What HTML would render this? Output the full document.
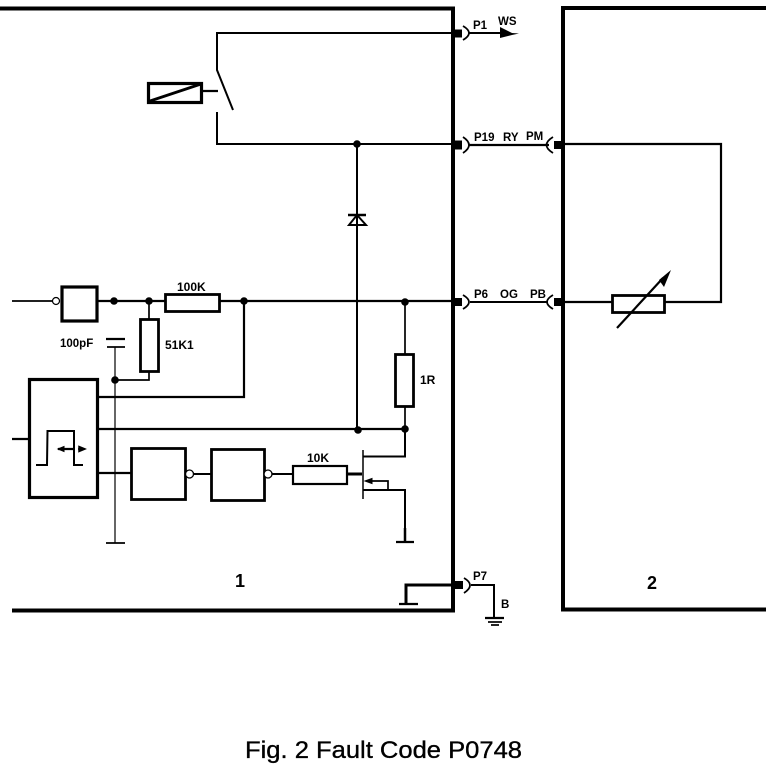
<!DOCTYPE html>
<html><head><meta charset="utf-8"><style>
html,body{margin:0;padding:0;background:#fff;width:784px;height:770px;overflow:hidden}
svg{display:block}
text{font-family:"Liberation Sans",sans-serif;font-weight:bold;fill:#000}
</style></head><body>
<svg width="784" height="770" viewBox="0 0 784 770" xmlns="http://www.w3.org/2000/svg" fill="none" stroke="#000" stroke-linecap="butt">
<!-- frames -->
<path d="M0 8.500H453V610.500H12" stroke-width="4"/>
<path d="M766 8H563V609.500H766" stroke-width="4"/>
<!-- relay -->
<path d="M453 33H217V70L233 110" stroke-width="2"/>
<path d="M217 112V144H453" stroke-width="2"/>
<rect x="148.500" y="83.500" width="53" height="19" stroke-width="3.200"/>
<path d="M150 101L201 84" stroke-width="2.800"/>
<path d="M201 91H218" stroke-width="2.200"/>
<!-- vertical diode -->
<path d="M357 144V430" stroke-width="2"/>
<path d="M349 225H366L357 215Z" stroke-width="2"/>
<path d="M348 215H366" stroke-width="2.500"/>
<!-- main line -->
<path d="M12 301H53" stroke-width="1.800"/>
<circle cx="56" cy="301" r="3.500" fill="#fff" stroke-width="1.200"/>
<rect x="62" y="287" width="35" height="34" stroke-width="3.200"/>
<path d="M97 301H165" stroke-width="2.200"/>
<rect x="165.500" y="294.500" width="54" height="17" stroke-width="2.800"/>
<path d="M220 301H453" stroke-width="2.200"/>
<path d="M244 301V397H98" stroke-width="2.200"/>
<path d="M149 301V320" stroke-width="1.700"/>
<rect x="140.500" y="319.500" width="18" height="52" stroke-width="2.800"/>
<path d="M149 372V380H115" stroke-width="1.700"/>
<!-- capacitor -->
<path d="M106 339H125" stroke-width="2.200"/>
<path d="M107 347H125" stroke-width="1.700"/>
<path d="M115 347V543" stroke-width="1.200"/>
<path d="M106 543H125" stroke-width="1.700"/>
<!-- comparator -->
<rect x="29.500" y="379.500" width="68" height="118" stroke-width="3.200"/>
<path d="M12 439H29" stroke-width="2.200"/>
<path d="M36 465H47L47.500 431H74V465H83" stroke-width="2"/>
<path d="M58 449H75" stroke-width="2.200"/>
<path d="M58 449L64 446.500V451.500Z" fill="#000" stroke-width="1"/>
<path d="M78 449H85M85 449L79 446.500V451.500Z" fill="#000" stroke-width="1.500"/>
<path d="M98 429H405" stroke-width="2.200"/>
<path d="M98 473H131" stroke-width="2.200"/>
<!-- logic blocks -->
<rect x="131.500" y="448.500" width="54" height="51" stroke-width="2.800"/>
<circle cx="189.500" cy="474" r="4" fill="#fff" stroke-width="1.300"/>
<path d="M194 474H211" stroke-width="2"/>
<rect x="211.500" y="449.500" width="53" height="51" stroke-width="2.800"/>
<circle cx="268" cy="474" r="4" fill="#fff" stroke-width="1.300"/>
<path d="M272 474H293" stroke-width="2"/>
<rect x="293" y="466" width="54" height="18" stroke-width="2.200"/>
<path d="M347 474H362" stroke-width="3"/>
<!-- FET -->
<path d="M363 450V499" stroke-width="1.500"/>
<path d="M363 456.500H405V429" stroke-width="2"/>
<path d="M405 301V354" stroke-width="1.700"/>
<rect x="395.500" y="354.500" width="18" height="52" stroke-width="2.800"/>
<path d="M405 407V429" stroke-width="1.700"/>
<path d="M363 490H405V542" stroke-width="2"/>
<path d="M368 481H388V490" stroke-width="1.700"/>
<path d="M365 481L372 478.500V483.500Z" fill="#000" stroke-width="1"/>
<path d="M396 542H414" stroke-width="2.200"/>
<path d="M405 528V542" stroke-width="2.500"/>
<!-- internal ground P7 -->
<path d="M453 585H406V603" stroke-width="3"/>
<path d="M399 604H418" stroke-width="2.200"/>
<!-- dots -->
<g fill="#000" stroke="none">
<circle cx="357" cy="144" r="3.800"/><circle cx="114" cy="301" r="3.800"/><circle cx="149" cy="301" r="3.800"/>
<circle cx="244" cy="301" r="3.800"/><circle cx="405" cy="302" r="3.800"/><circle cx="115" cy="380" r="3.800"/>
<circle cx="358" cy="430" r="3.800"/><circle cx="405" cy="429" r="3.800"/>
<rect x="453" y="29.500" width="9" height="8"/><rect x="453" y="140.500" width="9" height="9"/>
<rect x="453" y="298" width="9" height="8"/><rect x="453" y="581" width="10" height="8"/>
<rect x="554" y="141" width="9" height="8"/><rect x="554" y="298" width="9" height="8"/>
<path d="M500 27L512 33 519 33.500 512 35 500 38Z"/>
<path d="M671 270L659 280 664 287Z"/>
</g>
<!-- connectors -->
<g stroke-width="1.800">
<path d="M463 26Q475 33 463 40"/><path d="M463 137Q475 145 463 153"/><path d="M463 295Q475 302 463 309"/><path d="M464 578Q476 585 464 593"/>
<path d="M553 137Q540 145 553 153"/><path d="M553 295Q541 302 553 309"/>
</g>
<path d="M469 33H502" stroke-width="2"/>
<path d="M469 145H549" stroke-width="2.200"/>
<path d="M470 302H548" stroke-width="2"/>
<path d="M471 585H494V618" stroke-width="2"/>
<path d="M485 618H504" stroke-width="2.200"/><path d="M488 622H502" stroke-width="1.700"/><path d="M491 625H499" stroke-width="1.700"/>
<!-- box 2 circuit -->
<path d="M563 144H721V302H665" stroke-width="2.200"/>
<path d="M563 302H612" stroke-width="2.200"/>
<rect x="612.500" y="295.500" width="52" height="17" stroke-width="2.800"/>
<path d="M617 328L663 278" stroke-width="2.200"/>
<!-- labels -->
<g stroke="none">
<text x="473" y="29" font-size="11.500">P1</text>
<text x="498" y="25" font-size="11.500">WS</text>
<text x="474" y="141" font-size="11.500">P19</text>
<text x="503" y="141" font-size="11.500">RY</text>
<text x="526" y="140" font-size="11.500">PM</text>
<text x="474" y="298" font-size="11.500">P6</text>
<text x="500" y="298" font-size="11.500">OG</text>
<text x="530" y="298" font-size="11.500">PB</text>
<text x="473" y="580" font-size="11.500">P7</text>
<text x="501" y="608" font-size="11.500">B</text>
<text x="177" y="291" font-size="12">100K</text>
<text x="165" y="349" font-size="12">51K1</text>
<text x="60" y="347" font-size="11.500">100pF</text>
<text x="420" y="384" font-size="12">1R</text>
<text x="307" y="462" font-size="12">10K</text>
<text x="235" y="587" font-size="18">1</text>
<text x="647" y="589" font-size="18">2</text>
<text x="245" y="758" font-size="24" style="font-weight:normal;stroke:#000;stroke-width:.35" textLength="277" lengthAdjust="spacingAndGlyphs">Fig. 2 Fault Code P0748</text>
</g>
</svg>
</body></html>
